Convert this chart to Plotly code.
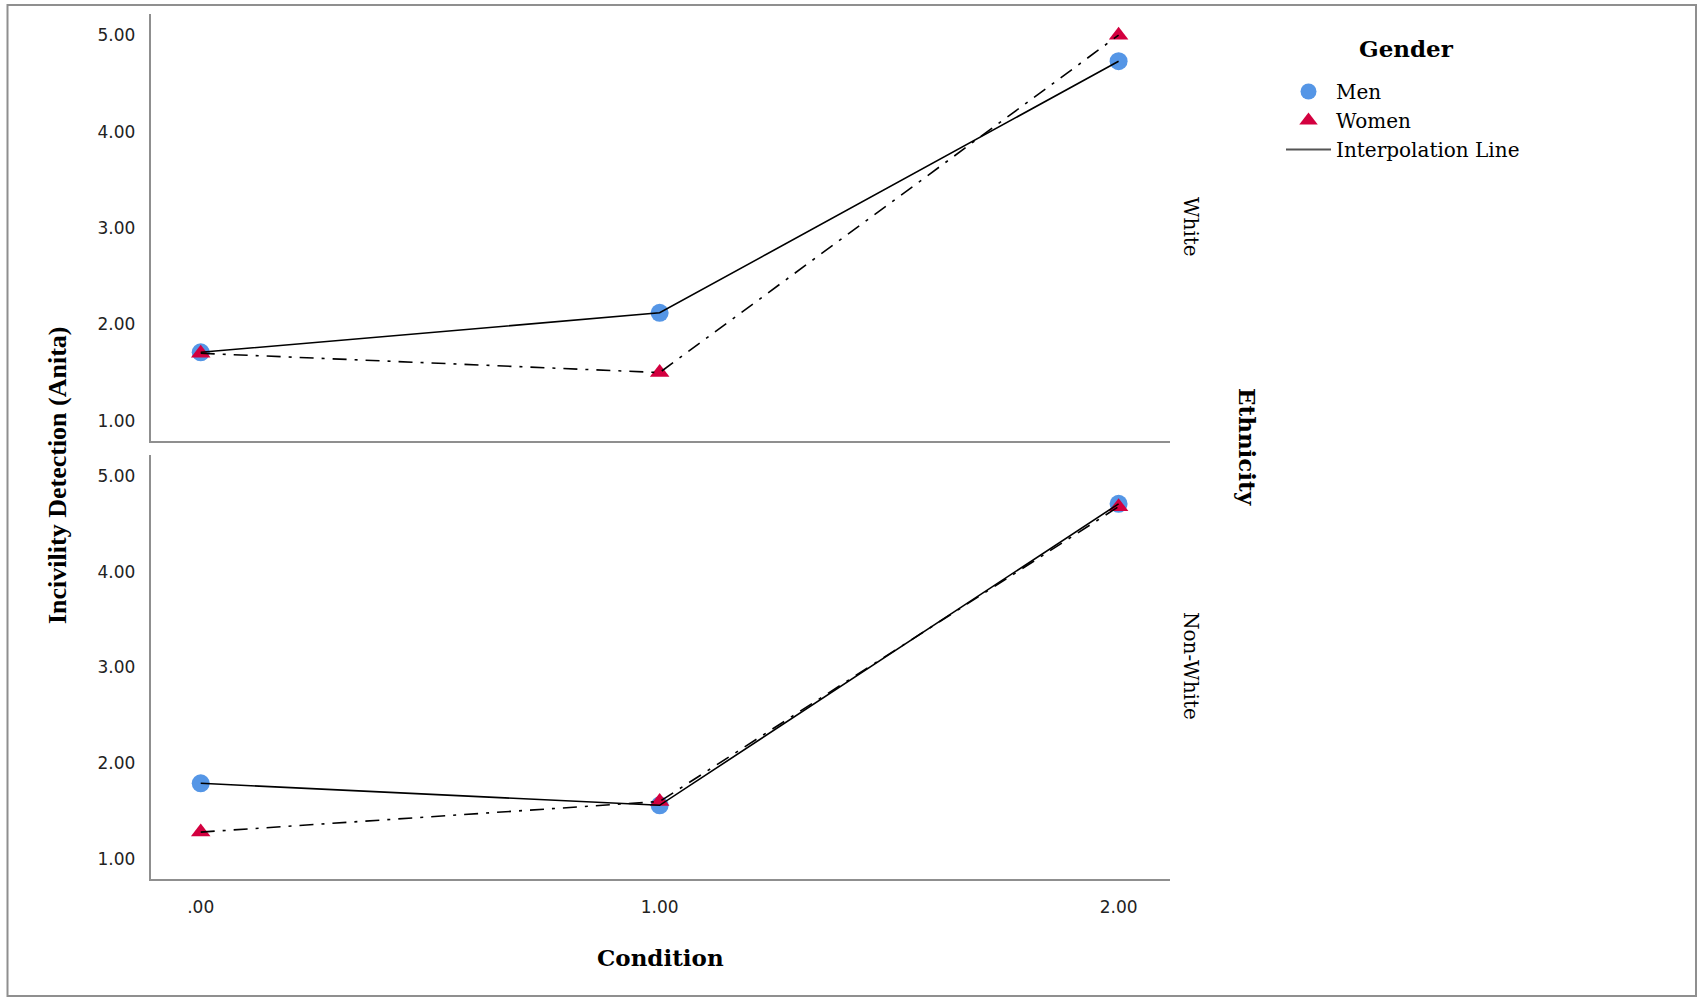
import plotly.graph_objects as go

# ---- data ----
conditions = [0, 1, 2]
x_tick_labels = [".00", "1.00", "2.00"]
y_tick_vals = [1, 2, 3, 4, 5]
y_tick_labels = ["1.00", "2.00", "3.00", "4.00", "5.00"]

white_men = [1.71, 2.12, 4.73]
white_women = [1.70, 1.50, 5.00]
nonwhite_men = [1.79, 1.56, 4.71]
nonwhite_women = [1.28, 1.60, 4.68]

panel_names = ["White", "Non-White"]

# ---- style ----
W, H = 1700, 1000
BLUE = "#5596E6"
RED = "#D3003F"
AXIS_GRAY = "#8f8f8f"
SERIF = "DejaVu Serif"
TIMES = "Liberation Serif"
SANS = "DejaVu Sans"


def fx(p):
    return p / W


def fy(p):
    return 1 - p / H


fig = go.Figure()
panels = [
    (white_men, white_women, "x", "y"),
    (nonwhite_men, nonwhite_women, "x2", "y2"),
]

for i, (men, women, xa, ya) in enumerate(panels):
    fig.add_trace(go.Scatter(
        x=conditions, y=men, mode="markers", name="Men", legendgroup="men",
        showlegend=(i == 0), marker=dict(symbol="circle", size=18, color=BLUE),
        xaxis=xa, yaxis=ya, hoverinfo="skip"))
    fig.add_trace(go.Scatter(
        x=conditions, y=women, mode="markers", name="Women", legendgroup="women",
        showlegend=(i == 0), marker=dict(symbol="triangle-up", size=17, color=RED),
        xaxis=xa, yaxis=ya, hoverinfo="skip"))

for i, (men, women, xa, ya) in enumerate(panels):
    fig.add_trace(go.Scatter(
        x=conditions, y=men, mode="lines", showlegend=False,
        line=dict(color="black", width=1.6), xaxis=xa, yaxis=ya, hoverinfo="skip"))
    fig.add_trace(go.Scatter(
        x=conditions, y=women, mode="lines", showlegend=False,
        line=dict(color="black", width=1.6, dash="14px,8px,3px,8px"),
        xaxis=xa, yaxis=ya, hoverinfo="skip"))

fig.add_trace(go.Scatter(
    x=[None], y=[None], mode="lines", name="Interpolation Line",
    line=dict(color="#555555", width=2), xaxis="x", yaxis="y"))

x_range = [-0.109, 2.112]
y_range = [0.79, 5.22]
x_dom = [fx(150.7), fx(1170)]

common_x = dict(range=x_range, domain=x_dom, showline=True, linecolor=AXIS_GRAY,
                linewidth=2, showgrid=False, zeroline=False, ticks="",
                tickvals=conditions, ticktext=x_tick_labels,
                tickfont=dict(family=SANS, size=17, color="#222"))
common_y = dict(range=y_range, showline=True, linecolor=AXIS_GRAY, linewidth=2,
                showgrid=False, zeroline=False, ticks="",
                tickvals=y_tick_vals, ticktext=y_tick_labels,
                tickfont=dict(family=SANS, size=17, color="#222"),
                ticklabelstandoff=10)


def ann(text, x, y, size, family=SERIF, angle=0):
    return dict(text=text, x=fx(x), y=fy(y), xref="paper", yref="paper",
                xanchor="center", yanchor="middle", showarrow=False,
                textangle=angle, font=dict(family=family, size=size, color="black"))


fig.update_layout(
    width=W, height=H,
    margin=dict(l=0, r=0, t=0, b=0),
    paper_bgcolor="white", plot_bgcolor="white",
    xaxis=dict(**common_x, anchor="y", showticklabels=False),
    yaxis=dict(**common_y, domain=[fy(441), fy(14)], anchor="x"),
    xaxis2=dict(**common_x, anchor="y2", matches="x", ticklabelstandoff=12),
    yaxis2=dict(**common_y, domain=[fy(879), fy(455)], anchor="x2"),
    legend=dict(
        x=fx(1281), y=fy(72), xanchor="left", yanchor="top",
        font=dict(family=SERIF, size=20, color="black"),
        bgcolor="rgba(0,0,0,0)", traceorder="normal", itemwidth=45,
    ),
    shapes=[dict(type="rect", xref="paper", yref="paper",
                 x0=fx(7.5), x1=fx(1696), y0=fy(996), y1=fy(5),
                 line=dict(color=AXIS_GRAY, width=2))],
    annotations=[
        ann("<b>Gender</b>", 1406, 48, 23),
        ann(panel_names[0], 1191, 227, 20, angle=90),
        ann(panel_names[1], 1191, 666, 20, angle=90),
        ann("<b>Ethnicity</b>", 1248, 447, 23, angle=90),
        ann("<b>Incivility Detection (Anita)</b>", 57, 475, 26, family=TIMES, angle=-90),
        ann("<b>Condition</b>", 660, 957, 23),
    ],
)

fig.write_html("out.html")
